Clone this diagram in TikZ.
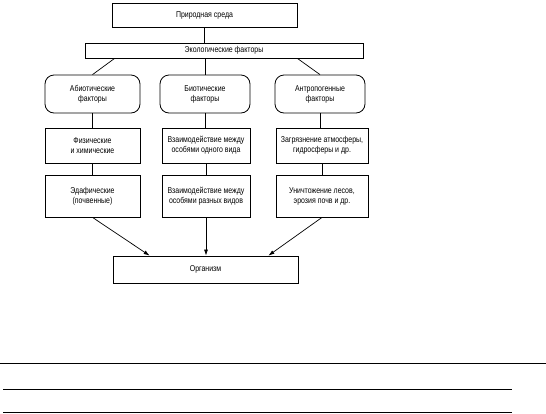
\documentclass[tikz,border=0pt]{standalone}
\usepackage{fontspec}
\setmainfont{Liberation Sans}[FakeStretch=0.82]
\usetikzlibrary{positioning, arrows.meta, calc}

\tikzset{
  box/.style={draw, line width=0.8pt, align=center, inner sep=1pt, font=\fontsize{8.5}{10}\selectfont},
  rbox/.style={box, rounded corners=9pt},
}

\begin{document}
\begin{tikzpicture}[x=1pt, y=-1pt, >={Latex[length=6pt,width=4pt]}, line width=0.7pt]
        \useasboundingbox (0,0) rectangle (546,413);
        % Nodes
        \node[box, minimum width=185pt, minimum height=24pt] (env) at (204.5,15) {Природная среда};
        \node[box, minimum width=278pt, minimum height=15pt] (eco) at (224,50.5) {Экологические факторы};

        \node[rbox, minimum width=95pt, minimum height=38pt] (abio) at (92.5,94) {Абиотические\\факторы};
        \node[rbox, minimum width=90pt, minimum height=38pt] (bio) at (205,94) {Биотические\\факторы};
        \node[rbox, minimum width=90pt, minimum height=38pt] (anthro) at (320,94) {Антропогенные\\факторы};

        \node[box, minimum width=95pt, minimum height=35pt] (phys) at (92.5,145.5) {Физические\\и химические};
        \node[box, minimum width=88pt, minimum height=35pt] (same) at (206,145.5) {Взаимодействие между\\особями одного вида};
        \node[box, minimum width=92pt, minimum height=35pt] (pollut) at (322,145.5) {Загрязнение атмосферы,\\гидросферы и др.};

        \node[box, minimum width=95pt, minimum height=42pt] (soil) at (92.5,196) {Эдафические\\(почвенные)};
        \node[box, minimum width=88pt, minimum height=42pt] (diff) at (206,196) {Взаимодействие между\\особями разных видов};
        \node[box, minimum width=92pt, minimum height=42pt] (forest) at (322,196) {Уничтожение лесов,\\эрозия почв и др.};

        \node[box, minimum width=185pt, minimum height=27pt] (org) at (205.5,269.5) {Организм};

        % Edges
        \draw (env.south) -- (env.south |- eco.north);
        \draw ($(eco.south west)+(30,0)$) -- (abio.north);
        \draw (bio.north |- eco.south) -- (bio.north);
        \draw ($(eco.south east)+(-66,0)$) -- (anthro.north);

        \draw (abio) -- (phys);
        \draw (bio.south) -- (bio.south |- same.north);
        \draw (anthro.south) -- (anthro.south |- pollut.north);
        \draw (phys) -- (soil);
        \draw (same) -- (diff);
        \draw (pollut) -- (forest);

        % Arrows
        \draw[->] (soil.south) -- ($(org.north west)+(37,0)$);
        \draw[->] (diff.south) -- (diff.south |- org.north);
        \draw[->] (forest.south) -- ($(org.north east)+(-30,0)$);

        % Lines below
        \draw[line width=0.8pt] (0,363) -- (546,363);
        \draw[line width=0.8pt] (3,389) -- (512,389);
        \draw[line width=0.8pt] (3,412) -- (512,412);
\end{tikzpicture}
\end{document}
